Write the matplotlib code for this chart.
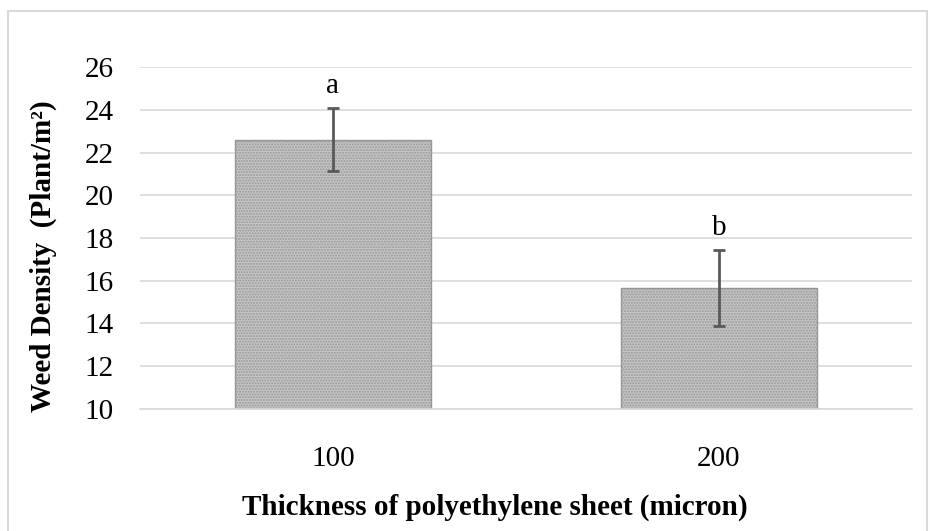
import matplotlib.pyplot as plt
from matplotlib.patches import Rectangle

# data
categories = ["100", "200"]
means = [22.6, 15.65]
errors = [1.47, 1.78]
letters = ["a", "b"]

plt.rcParams["font.family"] = ["Liberation Serif", "DejaVu Serif"]
plt.rcParams["hatch.color"] = "#8f8f8f"
plt.rcParams["hatch.linewidth"] = 1.0

fs = 21

fig = plt.figure(figsize=(9.3, 5.31), dpi=100)
ax = fig.add_axes([0.1505, 0.2298, 0.8301, 0.644])

# outer chart border
fig.patches.append(Rectangle((8 / 930, -0.05), 919 / 930, 1 - 11 / 531 + 0.05,
                             transform=fig.transFigure, fill=False,
                             edgecolor="#d9d9d9", linewidth=1.5))

x = range(len(categories))
ax.bar(x, [m - 10 for m in means], bottom=10, width=0.51,
       color="#c6c6c6", edgecolor="#969696", hatch="......", linewidth=1.0, zorder=2)
ax.errorbar(x, means, yerr=errors, fmt="none", ecolor="#595959",
            elinewidth=2, capsize=4.3, capthick=2, zorder=3)
for xi, m, e, l in zip(x, means, errors, letters):
    ax.text(xi, m + e + 0.72, l, ha="center", va="baseline", fontsize=fs)

ax.set_xlim(-0.5, 1.5)
ax.set_ylim(10, 26)
ax.set_yticks(range(10, 27, 2))
ax.set_xticks(list(x))
ax.set_xticklabels(categories)
ax.tick_params(length=0, labelsize=fs)
ax.tick_params(axis="y", pad=19)
ax.tick_params(axis="x", pad=27)
ax.grid(axis="y", color="#d9d9d9", linewidth=1.2, zorder=0)
ax.set_axisbelow(True)
for s in ["top", "right", "left"]:
    ax.spines[s].set_visible(False)
ax.spines["bottom"].set_color("#d9d9d9")
ax.spines["bottom"].set_linewidth(1.2)

fig.text(43 / 930, 1 - 256 / 531, "Weed Density  (Plant/m²)", rotation=90,
         ha="center", va="center", fontsize=fs, fontweight="bold")
fig.text(495 / 930, 1 - 515 / 531, "Thickness of polyethylene sheet (micron)",
         ha="center", va="baseline", fontsize=fs, fontweight="bold")

fig.savefig("out.png", dpi=100)
